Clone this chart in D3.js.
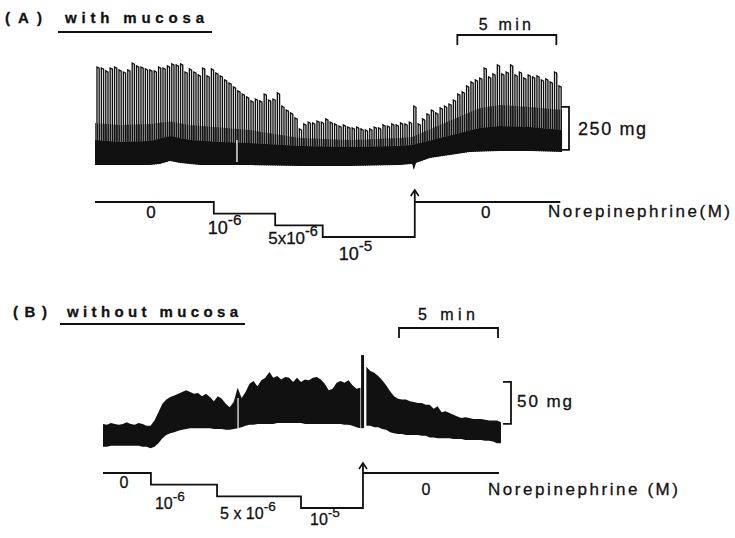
<!DOCTYPE html>
<html><head><meta charset="utf-8">
<script src="https://cdn.jsdelivr.net/npm/d3@7/dist/d3.min.js"></script>
<style>
body{margin:0;background:#fff}
svg{display:block}
text{font-family:"Liberation Sans",Arial,Helvetica,sans-serif;fill:#111;stroke:#111;stroke-width:0.3px}
</style>
</head><body>
<svg id="c" width="735" height="538"></svg>
<script>
// ===================== DATA =====================
// Panel A (with mucosa): contraction peaks (mg), one per contraction
const spikeStartA = 0.1;      // min
const spikePeriodA = 0.2222;  // min between contractions
const peakA = [587,581,564,581,587,570,558,570,610,593,587,576,570,564,587,581,593,605,599,605,
  558,576,558,541,581,535,576,552,535,512,494,471,448,430,413,390,401,390,430,395,
  401,436,360,337,320,291,227,256,267,262,273,267,285,267,256,244,250,238,233,238,
  227,221,227,238,233,250,244,256,250,262,256,267,360,256,285,314,337,320,349,360,
  372,395,430,442,477,500,512,523,581,529,547,599,547,558,599,541,558,523,541,529,
  535,512,518,500,558,477];
// Panel A baseline (resting tension, mg) at times (min)
const baseTimeA = [0.0,1.77,2.78,3.28,3.79,4.29,5.3,7.83,10.35,12.88,15.4,16.01,16.11,16.21,16.92,17.93,18.94,20.45,21.97,23.6];
const baseValA  = [17,17,17,23,40,29,17,17,12,12,17,23,-12,29,58,76,93,99,99,93];
// Panel A dense band top (mg) and hatched (partly dense) zone top (mg)
const bandTimeA = [0.0,1.26,2.78,3.79,4.8,6.31,7.83,10.35,12.88,15.4,16.01,16.41,17.42,18.43,19.44,20.45,21.97,23.6];
const bandValA  = [163,151,157,186,163,151,145,128,122,128,134,145,174,203,233,244,238,221];
const hatchValA = [262,250,256,270,250,235,221,174,163,174,180,200,250,300,349,366,355,337];
// Panel A artifacts
const artifactA = {time: 7.17, from: 35, to: 163};

// Panel B (without mucosa): sampled envelope (mg)
const sampleStepB = 0.2; // min
const preStartB = 0.0;
const preTopB = [31,30,32,31,30,31,33,31,30,32,31,29,29,35,45,55,60,63,65,67,
  69,71,69,67,68,64,67,63,58,64,61,55,51,57,74,62,69,79,82,76,
  83,86,93,86,88,84,87,86,81,86,81,84,83,86,87,84,79,71,73,80,
  82,80,83,77,73,74];
const preBotB = [4,4,5,5,5,5,5,5,5,5,4,4,2,4,8,14,18,20,21,23,
  24,25,26,26,26,26,26,26,25,25,25,24,24,25,26,27,29,30,30,31,
  31,31,31,31,32,32,32,32,32,32,32,31,31,31,31,31,31,31,31,31,
  31,30,30,29,27,26];
const postStartB = 13.3;
const postTopB = [99,94,92,88,83,77,70,64,61,60,60,58,57,56,56,54,54,49,52,45,
  46,44,42,40,38,39,38,37,37,37,36,35,35,35,33];
const postBotB = [29,29,27,27,25,24,21,20,19,19,18,18,18,18,17,17,15,15,14,14,
  14,14,13,13,13,12,12,12,12,12,11,11,10,8,8];
const washSpikeB = {time: 13.11, from: 26, to: 113};
const artifactB = {time: 6.82, from: 26, to: 62};

// Norepinephrine protocol
const concMantissa = ["0","10","5x10","10","0"];
const concMantissaB = ["0","10","5 x 10","10","0"];
const concExp = ["","-6","-6","-5",""];
const stepTimesA = [0, 6.0, 9.1, 11.5, 16.15, 23.5];
const stepLevelsA = [0, 1, 2, 3, 0];
const stepTimesB = [0, 2.42, 5.76, 10.0, 13.13, 20.0];
const stepLevelsB = [0, 1, 2, 3, 0];

// Scale bars
const timeBarA = {start: 18.3, len: 5, label: "5 min"};
const timeBarB = {start: 14.95, len: 5, label: "5 min"};
const forceBarA = {base: 105, len: 250, label: "250 mg"};
const forceBarB = {base: 31, len: 50, label: "50 mg"};

// ===================== DRAW =====================
const svg = d3.select("#c");
const defs = svg.append("defs");

const xA = d3.scaleLinear().domain([0, 23.5]).range([95, 560.3]);
const yA = d3.scaleLinear().domain([0, 250]).range([168, 125]);
const xB = d3.scaleLinear().domain([0, 20]).range([103, 499]);
const yB = d3.scaleLinear().domain([0, 50]).range([450, 408]);
const lvA = d3.scaleLinear().domain([0, 3]).range([202, 237]);
const lvB = d3.scaleLinear().domain([0, 3]).range([473, 508]);

const ink = "#111";

// vertical hatch pattern for the dense relaxation zone
const pat = defs.append("pattern").attr("id", "hatch")
  .attr("patternUnits", "userSpaceOnUse").attr("width", 2.2).attr("height", 10);
pat.append("rect").attr("x", 0).attr("y", 0).attr("width", 1.2).attr("height", 10).attr("fill", ink);

function txt(x, y, s, size, opts = {}) {
  const t = svg.append("text").attr("x", x).attr("y", y)
    .attr("font-size", size).text(s);
  if (opts.bold) t.attr("font-weight", "bold");
  if (opts.len) t.attr("textLength", opts.len).attr("lengthAdjust", "spacing");
  if (opts.anchor) t.attr("text-anchor", opts.anchor);
  return t;
}

// ---- Titles
txt(5, 23, "(A)", 15, {bold: true, len: 37});
txt(65, 23, "with mucosa", 15, {bold: true, len: 139});
svg.append("line").attr("x1", 58).attr("x2", 212).attr("y1", 32).attr("y2", 32)
  .attr("stroke", ink).attr("stroke-width", 2);
txt(13, 317, "(B)", 15, {bold: true, len: 34});
txt(67, 317, "without mucosa", 15, {bold: true, len: 171});
svg.append("line").attr("x1", 60).attr("x2", 245).attr("y1", 324).attr("y2", 324)
  .attr("stroke", ink).attr("stroke-width", 2);

// ---- Panel A trace
const clipArea = d3.area()
  .x(i => xA(baseTimeA[i])).y0(i => yA(baseValA[i])).y1(40);
defs.append("clipPath").attr("id", "clipA").append("path")
  .attr("d", clipArea(d3.range(baseTimeA.length)));

const gA = svg.append("g").attr("clip-path", "url(#clipA)");
gA.selectAll("path.spk").data(peakA).join("path")
  .attr("class", "spk")
  .attr("d", (v, i) => {
    const x = xA(spikeStartA + i * spikePeriodA);
    const yb = yA(-40), yp = yA(v);
    return `M${x},${yb}V${yp}L${x + 2.2},${yp + 1.2}V${yb}`;
  })
  .attr("fill", "none").attr("stroke", ink).attr("stroke-width", 1.35);

const hatchPts = bandTimeA.map((t, i) => [xA(t), yA(hatchValA[i])])
  .concat(bandTimeA.map((t, i) => [xA(t), yA(bandValA[i])]).reverse());
gA.append("path").attr("d", d3.line()(hatchPts) + "Z").attr("fill", "url(#hatch)");

const bandPts = bandTimeA.map((t, i) => [xA(t), yA(bandValA[i])])
  .concat(baseTimeA.map((t, i) => [xA(t), yA(baseValA[i])]).reverse());
gA.append("path").attr("d", d3.line()(bandPts) + "Z").attr("fill", ink);

svg.append("line")
  .attr("x1", xA(artifactA.time)).attr("x2", xA(artifactA.time))
  .attr("y1", yA(artifactA.from)).attr("y2", yA(artifactA.to))
  .attr("stroke", "#fff").attr("stroke-width", 1.3);

// ---- Panel B trace
function polyB(start, top, bot) {
  const pts = top.map((v, i) => [xB(start + i * sampleStepB), yB(v)])
    .concat(bot.map((v, i) => [xB(start + i * sampleStepB), yB(v)]).reverse());
  return d3.line()(pts) + "Z";
}
svg.append("path").attr("d", polyB(preStartB, preTopB, preBotB)).attr("fill", ink);
svg.append("path").attr("d", polyB(postStartB, postTopB, postBotB)).attr("fill", ink);
svg.append("line")
  .attr("x1", xB(washSpikeB.time)).attr("x2", xB(washSpikeB.time))
  .attr("y1", yB(washSpikeB.from)).attr("y2", yB(washSpikeB.to))
  .attr("stroke", ink).attr("stroke-width", 3);
svg.append("line")
  .attr("x1", xB(artifactB.time)).attr("x2", xB(artifactB.time))
  .attr("y1", yB(artifactB.from)).attr("y2", yB(artifactB.to))
  .attr("stroke", "#fff").attr("stroke-width", 1.2);

// ---- Scale bars
function timeBar(x, bar, y, ty, len) {
  svg.append("path")
    .attr("d", `M${x(bar.start)},${y + 10}V${y}H${x(bar.start + bar.len)}V${y + 10}`)
    .attr("fill", "none").attr("stroke", ink).attr("stroke-width", 1.8);
  const mid = (x(bar.start) + x(bar.start + bar.len)) / 2;
  txt(mid - len / 2 - 2, ty, bar.label, 16, {len: len});
}
timeBar(xA, timeBarA, 35, 30, 52);
timeBar(xB, timeBarB, 328, 320, 57);

function forceBar(y, bar, x, tx, ty, size, len) {
  svg.append("path")
    .attr("d", `M${x - 8},${y(bar.base + bar.len)}H${x}V${y(bar.base)}H${x - 8}`)
    .attr("fill", "none").attr("stroke", ink).attr("stroke-width", 1.8);
  txt(tx, ty, bar.label, size, {len: len});
}
forceBar(yA, forceBarA, 569, 578, 135, 18, 68);
forceBar(yB, forceBarB, 511, 517, 407, 17, 55);

// ---- Norepinephrine protocol step lines
function protocol(x, lv, times, levels, mant, tip, layout) {
  const pts = [];
  for (let i = 0; i < 4; i++) {
    pts.push([x(times[i]), lv(levels[i])]);
    pts.push([x(times[i + 1]), lv(levels[i])]);
  }
  pts.push([x(times[4]), tip]);
  svg.append("path").attr("d", d3.line()(pts))
    .attr("fill", "none").attr("stroke", ink).attr("stroke-width", 1.8);
  const ax = x(times[4]);
  svg.append("path").attr("d", `M${ax - 4},${tip + 6}L${ax},${tip}L${ax + 4},${tip + 6}`)
    .attr("fill", "none").attr("stroke", ink).attr("stroke-width", 1.6);
  svg.append("line").attr("x1", ax).attr("x2", x(times[5]))
    .attr("y1", lv(levels[4])).attr("y2", lv(levels[4]))
    .attr("stroke", ink).attr("stroke-width", 1.8);
  for (let i = 0; i < 5; i++) {
    const L = layout[i];
    const t = svg.append("text")
      .attr("x", x(times[i]) + L.dx).attr("y", lv(levels[i]) + L.dy)
      .attr("text-anchor", L.anchor).attr("font-size", L.size);
    t.append("tspan").text(mant[i]);
    if (concExp[i]) {
      t.append("tspan").attr("dy", -L.size * 0.5).attr("font-size", L.size * 0.85).text(concExp[i]);
    }
  }
}
protocol(xA, lvA, stepTimesA, stepLevelsA, concMantissa, 190, [
  {dx: 56, dy: 16, anchor: "middle", size: 17},
  {dx: -6, dy: 20, anchor: "start", size: 18},
  {dx: -7, dy: 19, anchor: "start", size: 17},
  {dx: 16, dy: 23, anchor: "start", size: 18},
  {dx: 71, dy: 16, anchor: "middle", size: 17}
]);
txt(548, 217, "Norepinephrine(M)", 17, {len: 182});

protocol(xB, lvB, stepTimesB, stepLevelsB, concMantissaB, 463, [
  {dx: 21, dy: 15, anchor: "middle", size: 16},
  {dx: 4, dy: 24, anchor: "start", size: 16},
  {dx: 3, dy: 23, anchor: "start", size: 16},
  {dx: 9, dy: 17, anchor: "start", size: 16},
  {dx: 63, dy: 22, anchor: "middle", size: 16}
]);
txt(488, 495, "Norepinephrine (M)", 17, {len: 190});
</script>
</body></html>
